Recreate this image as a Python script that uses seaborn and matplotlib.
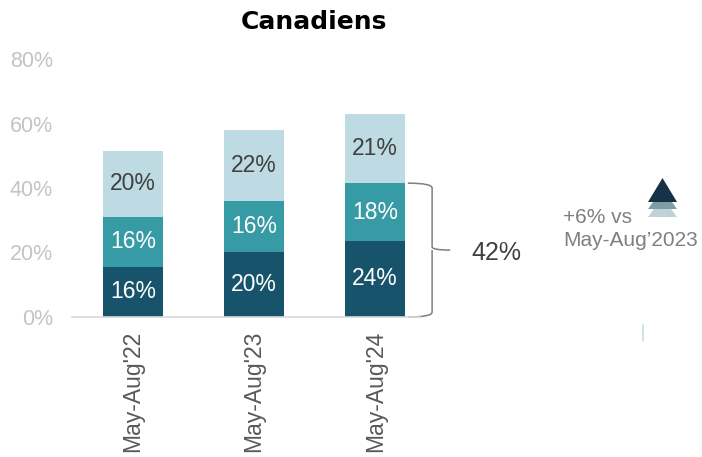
import numpy as np
import pandas as pd
import matplotlib
matplotlib.use('Agg')
import matplotlib.pyplot as plt
from matplotlib.patches import Polygon
from matplotlib.path import Path
from matplotlib.patches import PathPatch
import seaborn as sns

# data
periods = ["May-Aug'22", "May-Aug'23", "May-Aug'24"]
seg_bottom = [15.6, 20.1, 23.6]
seg_middle = [15.5, 16.0, 17.9]
seg_top = [20.3, 21.9, 21.3]
seg_colors = ['#17536a', '#379ba6', '#bedbe4']
bracket_label = '42%'
note_text = "+6% vs\nMay-Aug\u20192023"

sns.set_theme(style='white')
plt.rcParams['font.family'] = ['Liberation Sans', 'DejaVu Sans']

fig = plt.figure(figsize=(7.02, 4.57), dpi=100)
ax = fig.add_axes([72.5 / 702, 1 - 317 / 457, (420 - 72.5) / 702, (317 - 59) / 457])

df = pd.DataFrame({'period': periods, 'bottom': seg_bottom,
                   'middle': seg_middle, 'top': seg_top})
df['b2'] = df['bottom'] + df['middle']
df['b3'] = df['b2'] + df['top']

# stacked bars: draw cumulative totals back to front
for col, color in zip(['b3', 'b2', 'bottom'], seg_colors[::-1]):
    sns.barplot(data=df, x='period', y=col, color=color, width=0.5,
                saturation=1, ax=ax, edgecolor='none')

# segment labels
for i in range(len(periods)):
    starts = [0, df['bottom'][i], df['b2'][i]]
    vals = [df['bottom'][i], df['middle'][i], df['top'][i]]
    tcols = ['white', 'white', '#404040']
    for s, v, tc in zip(starts, vals, tcols):
        ax.text(i, s + v / 2, f'{round(v)}%', ha='center', va='center',
                fontsize=16.5, color=tc)

ax.set_ylim(0, 80)
ax.set_xlim(-0.5, 2.37)
ax.set_yticks([0, 20, 40, 60, 80])
ax.set_yticklabels([f'{t}%' for t in [0, 20, 40, 60, 80]], color='#c4c4c4', fontsize=15.5)
ax.tick_params(axis='y', length=0, pad=14)
ax.tick_params(axis='x', length=0, pad=10)
plt.setp(ax.get_xticklabels(), rotation=90, fontsize=16.5, color='#595959')
ax.set_xlabel('')
ax.set_ylabel('')
for s in ['top', 'right', 'left']:
    ax.spines[s].set_visible(False)
ax.spines['bottom'].set_color('#d9d9d9')
ax.spines['bottom'].set_linewidth(1.2)

# curly bracket beside the last bar
top_val = df['b2'][2]
mid_val = top_val / 2
x0, xv, xt = 2.27, 2.47, 2.62
verts = [(x0, top_val), (xv, top_val), (xv, top_val - 1.5), (xv, mid_val + 1),
         (xv, mid_val), (xt, mid_val),
         (xv, mid_val), (xv, mid_val - 1), (xv, 1.5), (xv, 0), (x0, 0)]
codes = [Path.MOVETO, Path.CURVE3, Path.CURVE3, Path.LINETO,
         Path.CURVE3, Path.LINETO,
         Path.MOVETO, Path.LINETO, Path.LINETO, Path.CURVE3, Path.CURVE3]
ax.add_patch(PathPatch(Path(verts, codes), fill=False, edgecolor='#7f7f7f',
                       lw=1.1, clip_on=False))
ax.text(3.0, mid_val - 1, bracket_label, ha='center', va='center',
        fontsize=18, color='#404040', clip_on=False)

# note on the right
fig.text(563 / 702, 1 - 229 / 457, note_text, ha='left', va='center',
         fontsize=15, color='#808080', linespacing=1.3)

# stacked arrow icon
def tri(apex_y, base_y, color):
    pts = [(648 / 702, 1 - base_y / 457), (677 / 702, 1 - base_y / 457),
           (662.5 / 702, 1 - apex_y / 457)]
    fig.add_artist(Polygon(pts, closed=True, transform=fig.transFigure,
                           facecolor=color, edgecolor='none'))

tri(197, 217, '#bdd3d6')
tri(189, 209, '#7e9ea6')
tri(178, 202, '#163246')

# small mark at the bottom right
fig.add_artist(plt.Line2D([642.5 / 702, 642.5 / 702], [1 - 325 / 457, 1 - 341 / 457],
                          transform=fig.transFigure, color='#c8dde3', lw=1.2))

fig.text(314 / 702, 1 - 22 / 457, 'Canadiens', ha='center', va='center',
         fontsize=18, fontweight='bold', color='black', family=['DejaVu Sans'])

plt.savefig('out.png', dpi=100)
